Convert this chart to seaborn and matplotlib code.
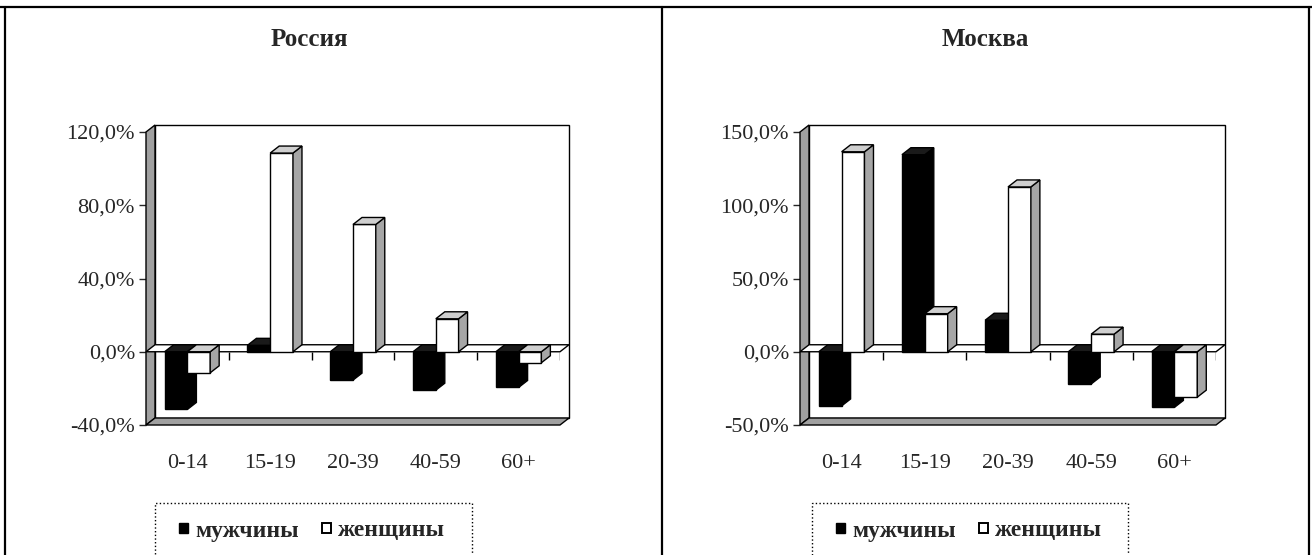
import numpy as np
import pandas as pd
import matplotlib
matplotlib.use("Agg")
import matplotlib.pyplot as plt
import seaborn as sns
from matplotlib.patches import Polygon, Rectangle, Patch
from matplotlib.lines import Line2D
from matplotlib.ticker import FuncFormatter

ages = ["0-14", "15-19", "20-39", "40-59", "60+"]
russia_men = [-31.5, 3.5, -15.5, -21.0, -19.5]
russia_women = [-11.5, 108.5, 69.5, 18.0, -6.0]
moscow_men = [-37.0, 134.5, 21.5, -22.0, -38.0]
moscow_women = [136.5, 26.0, 112.5, 12.0, -31.0]
sexes = ["мужчины", "женщины"]

sns.set_style("white")
plt.rcParams["font.family"] = ["Liberation Serif", "DejaVu Serif"]

W, H = 1312, 555
fig = plt.figure(figsize=(W / 100, H / 100), dpi=100)


def px_box(x0, y0, x1, y1):
    # pixel box (top-left origin) -> figure fraction rect
    return [x0 / W, 1 - y1 / H, (x1 - x0) / W, (y1 - y0) / H]


def draw_panel(rect, men, women, ylim, yticks, title, title_x, leg_box):
    ax = fig.add_axes(px_box(*rect))
    df = pd.DataFrame({
        "age": ages * 2,
        "sex": [sexes[0]] * len(ages) + [sexes[1]] * len(ages),
        "value": list(men) + list(women),
    })
    sns.barplot(data=df, x="age", y="value", hue="sex", palette=["black", "white"],
                saturation=1, edgecolor="black", linewidth=1, width=0.55,
                legend=False, ax=ax)
    xmin, xmax = -0.5, len(ages) - 0.5
    ymin, ymax = ylim
    ax.set_xlim(xmin, xmax)
    ax.set_ylim(ymin, ymax)
    ax.set_xlabel("")
    ax.set_ylabel("")
    for s in ax.spines.values():
        s.set_visible(False)

    # depth in data units (9 px right, 7 px up)
    wpx = ax.get_position().width * W
    hpx = ax.get_position().height * H
    dx = 9 * (xmax - xmin) / wpx
    dy = 7 * (ymax - ymin) / hpx
    gray = "#a0a0a0"
    kw = dict(edgecolor="black", linewidth=1, clip_on=False)

    ax.add_patch(Rectangle((xmin + dx, ymin + dy), xmax - xmin, ymax - ymin,
                           facecolor="white", zorder=0.5, **kw))
    ax.add_patch(Polygon([(xmin, ymin), (xmin + dx, ymin + dy), (xmin + dx, ymax + dy), (xmin, ymax)],
                         facecolor=gray, zorder=0.6, **kw))
    ax.add_patch(Polygon([(xmin, ymin), (xmax, ymin), (xmax + dx, ymin + dy), (xmin + dx, ymin + dy)],
                         facecolor=gray, zorder=0.6, **kw))
    ax.add_patch(Polygon([(xmin, 0), (xmax, 0), (xmax + dx, dy), (xmin + dx, dy)],
                         facecolor="white", zorder=0.7, **kw))
    ax.vlines(np.arange(len(ages)) + 0.5, 0, -8 * (ymax - ymin) / hpx,
              color="black", linewidth=1, zorder=0.8)

    bars = sorted(ax.patches[:2 * len(ages)], key=lambda b: b.get_x())
    for i, b in enumerate(bars):
        x0 = b.get_x()
        x1 = x0 + b.get_width()
        y0 = b.get_y()
        y1 = y0 + b.get_height()
        top, bot = max(y0, y1), min(y0, y1)
        dark = b.get_facecolor()[0] < 0.5
        z = 2 + i * 0.1
        b.set_zorder(z)
        ax.add_patch(Polygon([(x1, bot), (x1 + dx, bot + dy), (x1 + dx, top + dy), (x1, top)],
                             facecolor="black" if dark else "#a6a6a6", zorder=z, **kw))
        ax.add_patch(Polygon([(x0, top), (x1, top), (x1 + dx, top + dy), (x0 + dx, top + dy)],
                             facecolor="#1a1a1a" if dark else "#cfcfcf", zorder=z, **kw))

    ax.set_yticks(yticks)
    ax.yaxis.set_major_formatter(FuncFormatter(lambda v, p: f"{v:.1f}%".replace(".", ",")))
    ax.tick_params(axis="y", left=True, length=5, width=1, direction="out", pad=3, labelsize=16)
    ax.tick_params(axis="x", length=0, pad=21, labelsize=16)

    fig.text(title_x / W, 1 - 40 / H, title, ha="center", va="center",
             fontsize=18, fontweight="bold")

    # legend frame runs past the bottom edge of the picture
    lx0, ly0, lx1 = leg_box
    fig.add_artist(Rectangle((lx0 / W, -10 / H), (lx1 - lx0) / W, (H + 10 - ly0) / H,
                             transform=fig.transFigure, fill=False, edgecolor="black",
                             linewidth=1, linestyle=":"))
    handles = [Patch(facecolor="black", edgecolor="black"),
               Patch(facecolor="white", edgecolor="black", linewidth=1.4)]
    fig.legend(handles, sexes, loc="center left",
               bbox_to_anchor=((lx0 + 24) / W, 1 - 531 / H), bbox_transform=fig.transFigure,
               frameon=False, ncol=2, handlelength=0.38, handleheight=0.3,
               handletextpad=0.3, columnspacing=1.0, borderpad=0, borderaxespad=0,
               prop=dict(weight="bold", size=17))
    return ax


draw_panel((146, 132, 560, 425), russia_men, russia_women, (-40, 120),
           [-40, 0, 40, 80, 120], "Россия", 309, (155, 503, 472))
draw_panel((800, 132, 1216, 425), moscow_men, moscow_women, (-50, 150),
           [-50, 0, 50, 100, 150], "Москва", 985, (812, 503, 1128))

# outer frame lines of the table cell
for xs, ys in [((0, W), (7, 7)), ((5, 5), (7, H)), ((662, 662), (7, H)), ((1309, 1309), (7, H))]:
    fig.add_artist(Line2D([x / W for x in xs], [1 - y / H for y in ys],
                          transform=fig.transFigure, color="black", linewidth=1.6))

fig.savefig("out.png", dpi=100)
